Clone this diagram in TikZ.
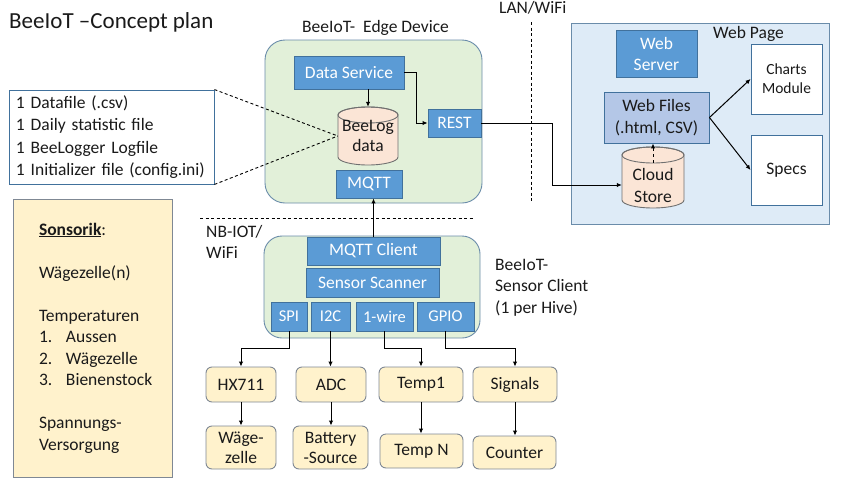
\documentclass[tikz,border=0pt]{standalone}
\usepackage{fontspec}
\setmainfont{Carlito}
\usetikzlibrary{arrows.meta,calc}
\definecolor{accblue}{HTML}{5B9BD5}
\definecolor{bbord}{HTML}{41719C}
\definecolor{edgefill}{HTML}{E2F0D9}
\definecolor{contbord}{HTML}{6A8CAA}
\definecolor{webfill}{HTML}{DEEBF7}
\definecolor{wffill}{HTML}{B4C7E7}
\definecolor{yfill}{HTML}{FFF2CC}
\definecolor{ybord}{HTML}{7F8894}
\definecolor{peach}{HTML}{FBE5D6}
\definecolor{cylbord}{HTML}{707070}
\definecolor{txt}{HTML}{1A1A1A}
\newcommand\cylshape[5]{%
  \draw[cyl] (#1-#4,#2+#5) -- (#1-#4,#3-#5) arc[start angle=180,end angle=360,x radius=#4pt,y radius=#5pt] -- (#1+#4,#2+#5) arc[start angle=0,end angle=180,x radius=#4pt,y radius=#5pt] -- cycle;
  \draw[cyl,fill=none] (#1,#2+#5) ellipse[x radius=#4pt,y radius=#5pt];}
\begin{document}
\begin{tikzpicture}[x=1pt,y=-1pt,
  base/.style={font=\fontsize{17.5}{21.5}\selectfont, inner sep=0pt, text=txt},
  bb/.style={base, draw=bbord, fill=accblue, text=white, line width=0.9pt, align=center},
  yb/.style={base, draw=ybord, fill=yfill, rounded corners=6pt, line width=0.9pt, align=center},
  wb/.style={base, draw=bbord, fill=white, line width=0.9pt, align=center},
  cont/.style={draw=contbord, line width=0.9pt, inner sep=0pt},
  cyl/.style={draw=cylbord, fill=peach, line width=0.9pt},
  conn/.style={line width=1pt, -{Latex[length=5pt,width=4.5pt]}},
  plain/.style={line width=1pt},
  dashline/.style={line width=0.9pt, dash pattern=on 3pt off 2.5pt},
  lbl/.style={base, align=left}]
\useasboundingbox (0,0) rectangle (841,485);

% title
\node[base, anchor=base west, font=\fontsize{23}{27}\selectfont] (title) at (9,28) {BeeIoT –Concept plan};

% containers
\node[cont, fill=edgefill, rounded corners=20pt, minimum width=217pt, minimum height=163pt] (edge) at (373.5,121.5) {};
\node[cont, fill=webfill, minimum width=258pt, minimum height=201pt] (web) at (700,123.5) {};
\node[cont, fill=edgefill, rounded corners=18pt, minimum width=216pt, minimum height=102pt] (client) at (372,287) {};

% labels
\node[lbl, anchor=base west] (edgelbl) at (302,32) {BeeIoT-\ \ Edge Device};
\node[lbl, anchor=base west] (lanlbl) at (499,13) {LAN/WiFi};
\node[lbl, anchor=base west] (weblbl) at (713,38) {Web Page};
\node[lbl, anchor=base west] (nblbl) at (206,258.5) {NB-IOT/\\WiFi};
\node[lbl, anchor=base west] (clientlbl) at (495,313) {BeeIoT-\\Sensor Client\\(1 per Hive)};

% edge device
\node[bb, minimum width=110pt, minimum height=33pt] (ds) at (349,72.5) {Data Service};
\node[bb, minimum width=53pt, minimum height=28pt] (rest) at (454.5,123) {REST};
\node[bb, minimum width=66pt, minimum height=28pt] (mqtt) at (369,184) {MQTT};
\cylshape{368}{107}{165}{30}{8}
\node[base, align=center, font=\fontsize{17.5}{20}\selectfont, minimum width=60pt, minimum height=58pt] (beelog) at (368,136) {BeeLog\\data};

% web page
\node[bb, minimum width=81pt, minimum height=47pt, font=\fontsize{17.5}{21}\selectfont] (wsrv) at (656.5,53.5) {Web\\Server};
\node[base, draw=bbord, fill=wffill, line width=0.9pt, align=center, minimum width=105pt, minimum height=51pt, font=\fontsize{17.5}{22}\selectfont] (wf) at (656.5,117.5) {Web Files\\(.html, CSV)};
\cylshape{653}{147}{208}{31}{8}
\node[base, align=center, font=\fontsize{17.5}{22}\selectfont, minimum width=62pt, minimum height=45pt] (cloud) at (653,185.5) {Cloud\\Store};
\node[wb, minimum width=71pt, minimum height=70pt, font=\fontsize{15.5}{19}\selectfont] (charts) at (786.5,79) {Charts\\Module};
\node[wb, minimum width=71pt, minimum height=70pt] (specs) at (786.5,170) {Specs};

% left text box
\node[base, draw=bbord, fill=white, line width=0.9pt, align=left, minimum width=205pt, minimum height=94pt, text width=191pt, inner xsep=7pt, font=\fontsize{17.5}{22.3}\selectfont] (files) at (111.5,137) {1 Datafile (.csv)\\1 Daily statistic file\\1 BeeLogger Logfile\\1 Initializer file (config.ini)};

% Sonsorik box
\node[base, draw=ybord, fill=yfill, line width=0.9pt, align=left, minimum width=159pt, minimum height=278pt, text width=107pt, inner xsep=26pt] (sens) at (92.5,338) {\underline{\textbf{Sonsorik}}:\\[21.5pt]Wägezelle(n)\\[21.5pt]Temperaturen\\\makebox[27pt][l]{1.}Aussen\\\makebox[27pt][l]{2.}Wägezelle\\\makebox[27pt][l]{3.}Bienenstock\\[21.5pt]Spannungs-\\Versorgung};

% sensor client
\node[bb, minimum width=133pt, minimum height=28pt] (mqttc) at (373.5,251) {MQTT Client};
\node[bb, minimum width=133pt, minimum height=29pt] (scan) at (372.5,282.5) {Sensor Scanner};
\node[bb, minimum width=36pt, minimum height=29pt, font=\fontsize{16.5}{20}\selectfont] (spi) at (289,316.5) {SPI};
\node[bb, minimum width=39pt, minimum height=29pt, font=\fontsize{16.5}{20}\selectfont] (i2c) at (330.5,316.5) {I2C};
\node[bb, minimum width=57pt, minimum height=29pt, font=\fontsize{16.5}{20}\selectfont] (onew) at (384.5,316.5) {1-wire};
\node[bb, minimum width=57pt, minimum height=29pt, font=\fontsize{16.5}{20}\selectfont] (gpio) at (445.5,316.5) {GPIO};

% lower boxes
\node[yb, minimum width=70pt, minimum height=35pt] (hx) at (241,384.5) {HX711};
\node[yb, minimum width=70pt, minimum height=35pt] (adc) at (331,384.5) {ADC};
\node[yb, minimum width=84pt, minimum height=35pt] (t1) at (421,384.5) {Temp1};
\node[yb, minimum width=84pt, minimum height=35pt] (sig) at (515,384.5) {Signals};
\node[yb, minimum width=70pt, minimum height=43pt, font=\fontsize{17.5}{20}\selectfont] (wz) at (241,447.5) {Wäge-\\zelle};
\node[yb, minimum width=75pt, minimum height=43pt, font=\fontsize{17.5}{20}\selectfont] (bat) at (330.5,447.5) {Battery\\-Source};
\node[yb, minimum width=83pt, minimum height=34pt] (tn) at (421.5,451) {Temp N};
\node[yb, minimum width=83pt, minimum height=33pt] (cnt) at (514.5,452.5) {Counter};

% helper coordinates
\coordinate (busy) at (0,348);
\coordinate (bend) at (552,185);
\coordinate (lan1) at (531,22);
\coordinate (lan2) at (531,201);
\coordinate (nb1) at (200,218);
\coordinate (nb2) at (473,218);

% dashed separators
\draw[dashline] (lan1) -- (lan2);
\draw[dashline] (nb1) -- (nb2);
\draw[dashline] (files.north east) -- (beelog.west);
\draw[dashline] (files.south east) -- (beelog.west);

% connectors
\draw[conn] (beelog.north |- ds.south) -- (beelog.north);
\draw[conn] (ds.east) -- ++(12,0) |- (rest.west);
\draw[conn] (rest.east) -| (bend) -- (cloud.west |- bend);
\draw[conn, dashed] (cloud.north) -- (cloud.north |- wf.south);
\draw[conn] (wf.east) -- (charts.west);
\draw[conn] (wf.east) -- (specs.west);
\draw[conn] (mqttc.north) -- (mqttc.north |- mqtt.south);

\draw[conn] (spi.south) -- (spi.south |- busy) -| (hx.north);
\draw[conn] (i2c.south) -- (i2c.south |- adc.north);
\draw[conn] (onew.south) -- (onew.south |- busy) -| (t1.north);
\draw[conn] (gpio.south) -- (gpio.south |- busy) -| (sig.north);

\draw[conn] (hx.south) -- (wz.north);
\draw[conn] (adc.south) -- (adc.south |- bat.north);
\draw[conn] (t1.south) -- (t1.south |- tn.north);
\draw[conn] (sig.south) -- (sig.south |- cnt.north);
\end{tikzpicture}
\end{document}
